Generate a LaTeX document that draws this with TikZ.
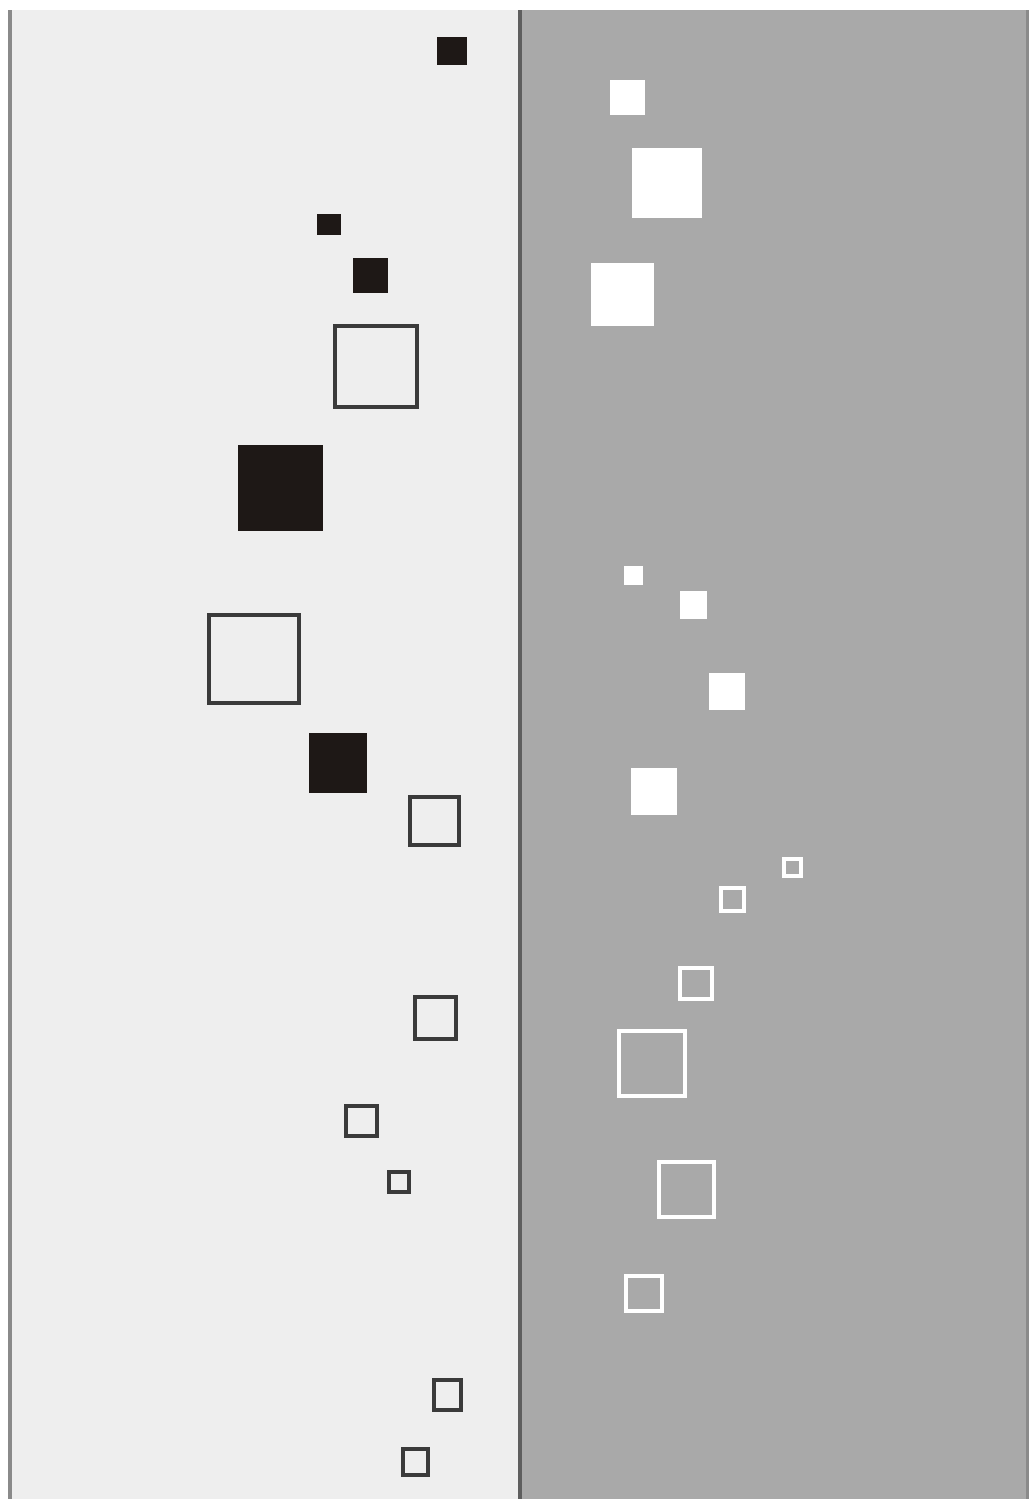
\documentclass[tikz,border=0pt]{standalone}
\definecolor{c1}{HTML}{EEEEEE}
\definecolor{c2}{HTML}{A9A9A9}
\definecolor{c3}{HTML}{1E1816}
\definecolor{c4}{HTML}{3A3A3A}
\definecolor{edgecolor}{HTML}{8A8A8A}
\definecolor{divcolor}{HTML}{5E5E5E}

\begin{document}
\begin{tikzpicture}[
    x=0.01cm, y=-0.01cm,
    solid/.style={fill=c3},
    hollow/.style={draw=c4, line width=1.1pt},
    wsolid/.style={fill=white},
    whollow/.style={draw=white, line width=1.1pt},
]
\useasboundingbox (0,0) rectangle (1029,1499);

% ============================================================ the two panels
\fill[white] (0,0) rectangle (1029,1499);
\fill[c1] (10,10) rectangle (520,1499);
\fill[c2] (520,10) rectangle (1027,1499);
\draw[edgecolor, line width=0.9pt] (10,10) -- (10,1499);
\draw[divcolor, line width=0.9pt] (520,10) -- (520,1499);
\draw[edgecolor, line width=0.6pt] (1027.5,10) -- (1027.5,1499);

% ============================================================ left panel, dark squares
\foreach \xa/\ya/\xb/\yb in {437/37/467/65, 317/214/341/235, 353/258/388/293,
                             238/445/323/531, 309/733/367/793}{
    \fill[solid] (\xa,\ya) rectangle (\xb,\yb);
}
\foreach \xa/\ya/\xb/\yb in {333/324/419/409, 207/613/301/705, 408/795/461/847,
                             413/995/458/1041, 344/1104/379/1138, 387/1170/411/1194,
                             432/1378/463/1412, 401/1447/430/1477}{
    \draw[hollow] (\xa+1.9,\ya+1.9) rectangle (\xb-1.9,\yb-1.9);
}

% ============================================================ right panel, white squares
\foreach \xa/\ya/\xb/\yb in {610/80/645/115, 632/148/702/218, 591/263/654/326,
                             624/566/643/585, 680/591/707/619, 709/673/745/710,
                             631/768/677/815}{
    \fill[wsolid] (\xa,\ya) rectangle (\xb,\yb);
}
\foreach \xa/\ya/\xb/\yb in {782/857/803/878, 719/886/746/913, 678/966/714/1001,
                             617/1029/687/1098, 657/1160/716/1219, 624/1274/664/1313}{
    \draw[whollow] (\xa+1.9,\ya+1.9) rectangle (\xb-1.9,\yb-1.9);
}

\end{tikzpicture}
\end{document}
